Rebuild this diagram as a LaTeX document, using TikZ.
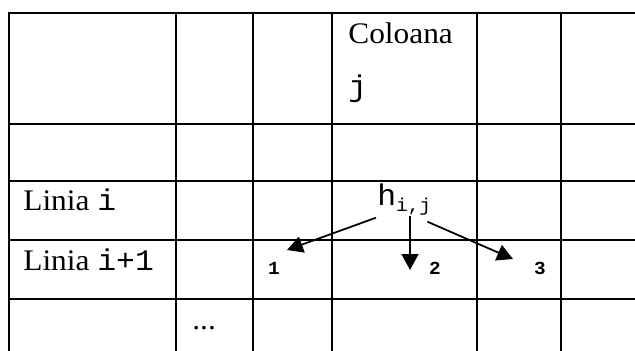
\documentclass[tikz,border=0pt]{standalone}
\usepackage{fontspec}
\setmainfont{Liberation Serif}[FakeStretch=1.05]
\setmonofont{Liberation Mono}[FakeStretch=1.05]
\usetikzlibrary{arrows.meta,calc}

\begin{document}
\begin{tikzpicture}[
    x=0.02cm, y=-0.02cm,
    grid/.style={line width=1.1pt,line cap=rect},
    txt/.style={anchor=base west,inner sep=0pt,font=\fontsize{17}{20}\selectfont},
    num/.style={inner sep=0pt,font=\fontsize{10.5}{12}\selectfont\ttfamily\bfseries},
    arr/.style={-{Triangle[length=9pt,width=9.5pt]},line width=1pt}
]
\useasboundingbox (0,0) rectangle (635,351);

% Table
\foreach \y in {13,124,181,240,299} {
    \draw[grid] (9,\y) -- (640,\y);
}
\foreach \x in {9,176,253,332,477,561} {
    \draw[grid] (\x,13) -- (\x,356);
}

% Headers
\node[txt] (col) at (348,44) {Coloana};
\node[txt] (colj) at (348,97) {\ttfamily j};
\node[txt] (lini) at (23,211) {Linia \texttt{i}};
\node[txt] (linii) at (23,270) {Linia \texttt{i+1}};
\node[txt] (dots) at (192,329) {...};

% Element and neighbours
\node[txt] (hij) at (377,206) {\ttfamily h\raisebox{-0.35ex}{\fontsize{10.5}{11}\selectfont i,j}};
\node[num] (n1) at (274,268) {1};
\node[num] (n2) at (435,268) {2};
\node[num] (n3) at (540,268) {3};
\coordinate (t1) at (287,250);
\coordinate (t2) at (410,270);
\coordinate (t3) at (513,259);
\draw[arr] ($(hij.south west)+(-1,2)$) -- (t1);
\draw[arr] (hij.south -| t2) -- (t2);
\draw[arr] ($(hij.south east)+(-4,6)$) -- (t3);
\end{tikzpicture}
\end{document}
